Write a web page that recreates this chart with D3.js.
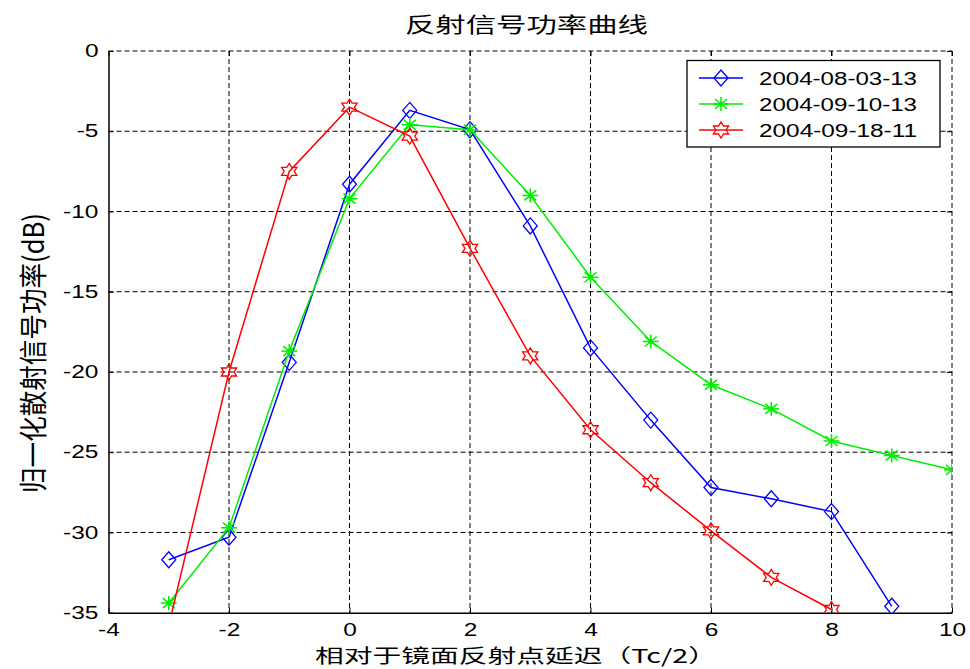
<!DOCTYPE html>
<html>
<head>
<meta charset="utf-8">
<script src="https://cdn.jsdelivr.net/npm/d3@7/dist/d3.min.js"></script>
<style>
  html, body { margin: 0; padding: 0; background: #fff; }
  svg { display: block; }
  text { font-family: "Liberation Sans", Arial, sans-serif; fill: #000; }
  .cjk { font-family: "Noto Sans CJK SC", sans-serif; }
</style>
</head>
<body>
<div id="chart"></div>
<script>
// Delay offsets (units of Tc/2)
const delays = [-3, -2, -1, 0, 1, 2, 3, 4, 5, 6, 7, 8, 9, 10];

// Normalized reflected power (dB) per observation
const power_2004_08_03_13 = [-31.7, -30.3, -19.4, -8.3, -3.7, -4.9, -10.9, -18.5, -23.0, -27.2, -27.9, -28.7, -34.6];
const power_2004_09_10_13 = [-34.4, -29.7, -18.7, -9.2, -4.6, -4.9, -9.0, -14.1, -18.1, -20.8, -22.3, -24.3, -25.2, -26.1];
const power_2004_09_18_11 = [-35.8, -20.0, -7.5, -3.5, -5.3, -12.3, -19.0, -23.6, -26.9, -29.9, -32.8, -34.8];

const seriesNames = ["2004-08-03-13", "2004-09-10-13", "2004-09-18-11"];
const xTicks = [-4, -2, 0, 2, 4, 6, 8, 10];
const yTicks = [0, -5, -10, -15, -20, -25, -30, -35];

const titleText = "反射信号功率曲线";
const xLabelText = "相对于镜面反射点延迟（Tc/2）";
const yLabelText = "归一化散射信号功率(dB)";

const W = 970, H = 669;
const plot = { left: 108.5, right: 952, top: 51, bottom: 612.7 };

const series = [
  { name: seriesNames[0], values: power_2004_08_03_13, color: "#0000ff", marker: "diamond" },
  { name: seriesNames[1], values: power_2004_09_10_13, color: "#00ee00", marker: "asterisk" },
  { name: seriesNames[2], values: power_2004_09_18_11, color: "#ff0000", marker: "hexagram" }
];

const x = d3.scaleLinear().domain([-4, 10]).range([plot.left, plot.right]);
const y = d3.scaleLinear().domain([-35, 0]).range([plot.bottom, plot.top]);

const svg = d3.select("#chart").append("svg").attr("width", W).attr("height", H);

svg.append("defs").append("clipPath").attr("id", "plotClip")
  .append("rect")
  .attr("x", plot.left).attr("y", plot.top)
  .attr("width", plot.right - plot.left).attr("height", plot.bottom - plot.top);

// Dashed grid (also forms the top and right edges)
const grid = svg.append("g").attr("stroke", "#000").attr("stroke-width", 1).attr("stroke-dasharray", "5,3");
grid.selectAll("line.gx").data(xTicks.filter(t => t > -4)).join("line")
  .attr("x1", d => x(d)).attr("x2", d => x(d))
  .attr("y1", plot.top).attr("y2", plot.bottom);
grid.selectAll("line.gy").data(yTicks.filter(t => t > -35)).join("line")
  .attr("y1", d => y(d)).attr("y2", d => y(d))
  .attr("x1", plot.left).attr("x2", plot.right);

// Axes with inward ticks
const fmt = d => d3.format("d")(d).replace("−", "-");
const xAxis = svg.append("g").attr("transform", `translate(0,${plot.bottom})`)
  .call(d3.axisBottom(x).tickValues(xTicks).tickSizeInner(-5).tickSizeOuter(0).tickPadding(11).tickFormat(fmt));
const yAxis = svg.append("g").attr("transform", `translate(${plot.left},0)`)
  .call(d3.axisLeft(y).tickValues(yTicks).tickSizeInner(-5).tickSizeOuter(0).tickPadding(10).tickFormat(fmt));
// Mirror ticks on top and right
svg.append("g").attr("transform", `translate(0,${plot.top})`)
  .call(d3.axisTop(x).tickValues(xTicks).tickSizeInner(-5).tickSizeOuter(0).tickFormat(""))
  .select(".domain").remove();
svg.append("g").attr("transform", `translate(${plot.right},0)`)
  .call(d3.axisRight(y).tickValues(yTicks).tickSizeInner(-5).tickSizeOuter(0).tickFormat(""))
  .select(".domain").remove();

[xAxis, yAxis].forEach(g => {
  g.select(".domain").attr("stroke", "#000").attr("stroke-width", 1.5);
  g.selectAll("text").attr("font-size", 17.5).attr("fill", "#000")
    .attr("font-family", "'Liberation Sans', Arial, sans-serif");
});
svg.selectAll(".tick line").attr("stroke", "#000");
xAxis.selectAll("text").attr("transform", "scale(1.4,1)");
yAxis.selectAll("text").attr("x", 0).attr("transform", "translate(-10,0) scale(1.4,1)");

// Marker shapes
function drawMarker(g, kind, color) {
  if (kind === "diamond") {
    g.append("path").attr("d", "M0,-8L7,0L0,8L-7,0Z")
      .attr("fill", "none").attr("stroke", color).attr("stroke-width", 1.3);
  } else if (kind === "asterisk") {
    const arms = [[-8, 0, 8, 0], [0, -7, 0, 7], [-6, -5, 6, 5], [-6, 5, 6, -5]];
    arms.forEach(a => g.append("line")
      .attr("x1", a[0]).attr("y1", a[1]).attr("x2", a[2]).attr("y2", a[3])
      .attr("stroke", color).attr("stroke-width", 1.5));
    g.append("circle").attr("r", 2.5).attr("fill", color);
  } else {
    const pts = [];
    for (let i = 0; i < 12; i++) {
      const r = i % 2 === 0 ? 8 : 4.6;
      const a = -Math.PI / 2 + i * Math.PI / 6;
      pts.push([r * Math.cos(a) * 1.1, r * Math.sin(a)]);
    }
    g.append("path").attr("d", "M" + pts.map(p => p.join(",")).join("L") + "Z")
      .attr("fill", "none").attr("stroke", color).attr("stroke-width", 1.3);
  }
}

// Series lines and markers
const dataLayer = svg.append("g").attr("clip-path", "url(#plotClip)");
const line = d3.line().x(d => x(d[0])).y(d => y(d[1]));
series.forEach(s => {
  const pts = s.values.map((v, i) => [delays[i], v]);
  dataLayer.append("path").datum(pts).attr("d", line)
    .attr("fill", "none").attr("stroke", s.color).attr("stroke-width", 1.5);
  pts.forEach(p => {
    const g = dataLayer.append("g").attr("transform", `translate(${x(p[0])},${y(p[1])})`);
    drawMarker(g, s.marker, s.color);
  });
});

// Legend
const legend = svg.append("g");
legend.append("rect").attr("x", 687).attr("y", 60.5).attr("width", 253).attr("height", 86.5)
  .attr("fill", "#fff").attr("stroke", "#000").attr("stroke-width", 1.3);
series.forEach((s, i) => {
  const ly = 78 + i * 26;
  legend.append("line").attr("x1", 699).attr("x2", 743).attr("y1", ly).attr("y2", ly)
    .attr("stroke", s.color).attr("stroke-width", 1.5);
  drawMarker(legend.append("g").attr("transform", `translate(721,${ly})`), s.marker, s.color);
  legend.append("text").attr("x", 759).attr("y", ly + 6.5).attr("font-size", 18)
    .attr("textLength", 158).attr("lengthAdjust", "spacingAndGlyphs").text(s.name);
});

// Title and axis labels
svg.append("text").attr("class", "cjk").attr("x", 405).attr("y", 32)
  .attr("font-size", 21).attr("textLength", 243).attr("lengthAdjust", "spacingAndGlyphs")
  .text(titleText);
svg.append("text").attr("class", "cjk").attr("x", 315).attr("y", 663)
  .attr("font-size", 19).attr("textLength", 402).attr("lengthAdjust", "spacingAndGlyphs")
  .text(xLabelText);
svg.append("text").attr("class", "cjk")
  .attr("transform", "translate(44,493) rotate(-90) scale(1,1.3)")
  .attr("x", 0).attr("y", 0)
  .attr("font-size", 22).attr("textLength", 280).attr("lengthAdjust", "spacingAndGlyphs")
  .text(yLabelText);
</script>
</body>
</html>
